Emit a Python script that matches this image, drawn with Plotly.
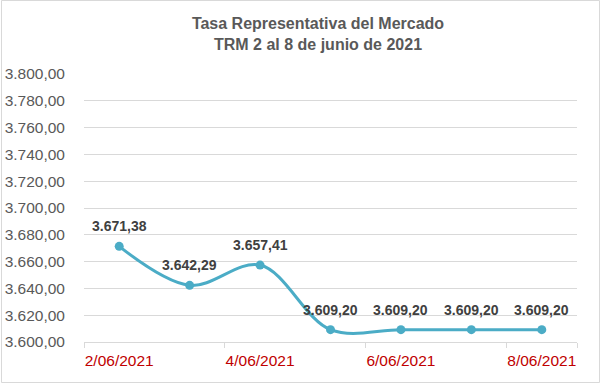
import plotly.graph_objects as go

dates = ["2/06/2021", "3/06/2021", "4/06/2021", "5/06/2021", "6/06/2021", "7/06/2021", "8/06/2021"]
trm = [3671.38, 3642.29, 3657.41, 3609.20, 3609.20, 3609.20, 3609.20]
y_ticks = [3600, 3620, 3640, 3660, 3680, 3700, 3720, 3740, 3760, 3780, 3800]

idx = list(range(len(dates)))
labels = [f"{v:,.2f}".replace(",", "X").replace(".", ",").replace("X", ".") for v in trm]

fig = go.Figure()
fig.add_trace(go.Scatter(
    x=idx, y=trm, mode="lines+markers",
    line=dict(color="#4BACC6", width=3, shape="spline", smoothing=1),
    marker=dict(color="#4BACC6", size=9),
    cliponaxis=False, hoverinfo="skip",
))

for xi, yi, lab in zip(idx, trm, labels):
    fig.add_annotation(
        x=xi, y=yi, text=lab, showarrow=False, yshift=20,
        font=dict(family="Liberation Sans, Arial", size=14, color="#404040", weight="bold"),
    )

W, H = 600, 383
L, R, T, B = 84, 23, 74, 41
pw, ph = W - L - R, H - T - B

fig.update_layout(
    width=W, height=H,
    margin=dict(l=L, r=R, t=T, b=B, autoexpand=False),
    paper_bgcolor="white", plot_bgcolor="white",
    separators=",.",
    showlegend=False,
    title=dict(
        text="Tasa Representativa del Mercado<br>TRM 2 al 8 de junio de 2021",
        x=318 / W, xanchor="center", y=1 - 29 / H, yanchor="top",
        font=dict(family="Liberation Sans, Arial", size=16, color="#595959", weight="bold"),
    ),
    xaxis=dict(
        automargin=False,
        range=[-0.5, len(dates) - 0.5],
        tickvals=idx[::2], ticktext=dates[::2],
        ticks="", showgrid=False, zeroline=False,
        showline=True, linecolor="#d9d9d9", linewidth=1,
        ticklabelstandoff=4,
        tickfont=dict(family="Liberation Sans, Arial", size=15.5, color="#C00000"),
        minor=dict(tickvals=[i - 0.5 for i in idx[::2]] + [len(dates) - 0.5], ticks="outside",
                   ticklen=5, tickcolor="#d9d9d9", showgrid=False),
    ),
    yaxis=dict(
        automargin=False,
        range=[y_ticks[0], y_ticks[-1]],
        tickvals=y_ticks, tickformat=",.2f",
        showgrid=True, gridcolor="#d9d9d9", gridwidth=1,
        zeroline=False, showline=False, ticks="",
        ticklabelstandoff=18,
        tickfont=dict(family="Liberation Sans, Arial", size=15.5, color="#595959"),
    ),
    shapes=[dict(
        type="rect", xref="paper", yref="paper",
        x0=(-L + 1.5) / pw, x1=(W - L - 0.5) / pw,
        y0=(-B + 0.5) / ph, y1=(ph + T - 0.5) / ph,
        line=dict(color="#d9d9d9", width=1), fillcolor="rgba(0,0,0,0)", layer="below",
    )],
)

fig.write_html("out.html", config={"displayModeBar": False},
               post_script="document.body.style.margin='0';document.body.style.overflow='hidden';")
